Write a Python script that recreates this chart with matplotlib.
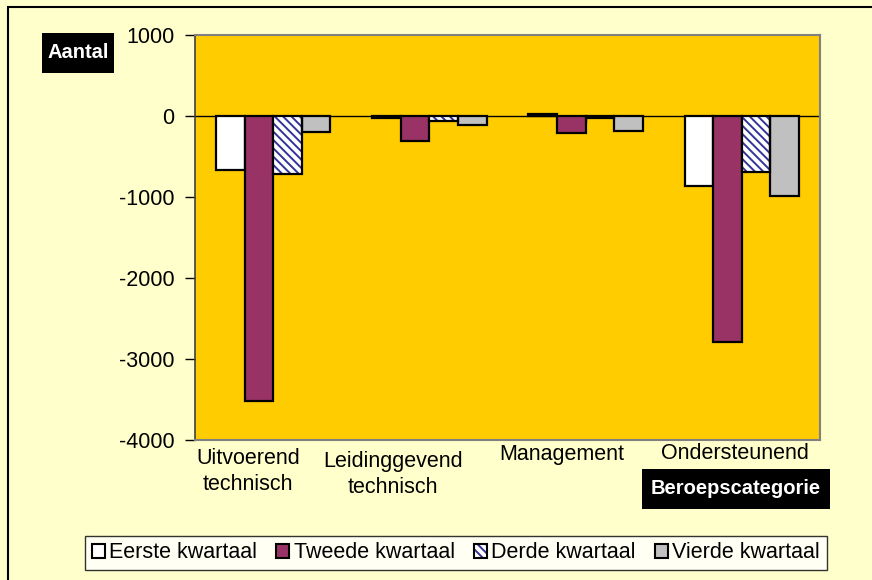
import matplotlib
matplotlib.use('Agg')
import matplotlib.pyplot as plt
from matplotlib.patches import Patch, Rectangle
from matplotlib.legend_handler import HandlerTuple
import numpy as np

plt.rcParams['font.family'] = ['Liberation Sans', 'DejaVu Sans']
plt.rcParams['hatch.linewidth'] = 1.4

categories = ['Uitvoerend\ntechnisch', 'Leidinggevend\ntechnisch', 'Management', 'Ondersteunend']
series = ['Eerste kwartaal', 'Tweede kwartaal', 'Derde kwartaal', 'Vierde kwartaal']
eerste = [-665, -25, 20, -865]
tweede = [-3520, -310, -210, -2790]
derde = [-715, -60, -20, -690]
vierde = [-200, -110, -185, -990]
yticks = [1000, 0, -1000, -2000, -3000, -4000]

fs = 15.5
W, H = 872, 580


def fx(px):
    return px / W


def fy(py):
    return 1 - py / H


fig = plt.figure(figsize=(8.72, 5.80), dpi=100)
fig.patch.set_facecolor('#FFFFCC')
# outer chart border (only top and left visible in the crop)
fig.patches.append(Rectangle((fx(8), -0.05), 1.0, fy(7) + 0.05,
                             transform=fig.transFigure, fill=False,
                             edgecolor='black', linewidth=1.5))

ax = fig.add_axes([fx(195), fy(440), 625 / W, 405 / H])
ax.set_facecolor('#FFCC00')

x = np.arange(len(categories))
w = 0.183
ec = 'black'
lw = 1.6
ax.bar(x - 1.5 * w, eerste, w, color='white', edgecolor=ec, linewidth=lw, zorder=3)
ax.bar(x - 0.5 * w, tweede, w, color='#993366', edgecolor=ec, linewidth=lw, zorder=3)
ax.bar(x + 0.5 * w, derde, w, color='white', edgecolor='#333399', linewidth=0,
       hatch='\\\\\\\\', zorder=3)
ax.bar(x + 0.5 * w, derde, w, fill=False, edgecolor=ec, linewidth=lw, zorder=4)
ax.bar(x + 1.5 * w, vierde, w, color='#C0C0C0', edgecolor=ec, linewidth=lw, zorder=3)

ax.set_xlim(-0.5, len(categories) - 0.5)
ax.set_ylim(-4000, 1000)
ax.set_yticks(yticks)
ax.set_yticklabels([str(v) for v in yticks], fontsize=fs)
ax.tick_params(axis='y', direction='out', length=7, width=1, pad=8)
ax.set_xticks([])

# category axis crossing at zero
ax.axhline(0, color='black', linewidth=1, zorder=2)
ax.vlines(np.arange(1, len(categories)), 0, -75, color='black', linewidth=1, zorder=2)

for side in ['top', 'right', 'bottom']:
    ax.spines[side].set_color('#808080')
    ax.spines[side].set_linewidth(1.5)
ax.spines['left'].set_color('#404040')
ax.spines['left'].set_linewidth(1.2)

# category labels (Excel draws them a bit shifted)
label_pos = [(248, 448), (393, 451), (562, 444), (735, 443)]
for lab, (px, py) in zip(categories, label_pos):
    fig.text(fx(px), fy(py), lab, ha='center', va='top', fontsize=fs,
             linespacing=1.3)

# black title boxes
for (x0, y0, x1, y1), txt in [((42, 33, 114, 73), 'Aantal'),
                             ((642, 469, 830, 509), 'Beroepscategorie')]:
    fig.patches.append(Rectangle((fx(x0), fy(y1)), (x1 - x0) / W, (y1 - y0) / H,
                                 transform=fig.transFigure, facecolor='black',
                                 edgecolor='none'))
    fig.text(fx((x0 + x1) / 2), fy((y0 + y1) / 2), txt, ha='center', va='center',
             fontsize=14.5, fontweight='bold', color='white')

handles = [
    Patch(facecolor='white', edgecolor='black', linewidth=1.5),
    Patch(facecolor='#993366', edgecolor='black', linewidth=1.5),
    (Patch(facecolor='white', edgecolor='#333399', linewidth=0, hatch='\\\\\\\\'),
     Patch(fill=False, edgecolor='black', linewidth=1.5)),
    Patch(facecolor='#C0C0C0', edgecolor='black', linewidth=1.5),
]
leg = fig.legend(handles, series, loc='center', bbox_to_anchor=(fx(456), fy(553)),
                 ncol=4, fontsize=fs, frameon=True, fancybox=False,
                 handlelength=0.6, handleheight=0.6, handletextpad=0.2,
                 columnspacing=0.9, borderpad=0.3, borderaxespad=0,
                 handler_map={tuple: HandlerTuple(ndivide=1)})
leg.get_frame().set_edgecolor('black')
leg.get_frame().set_linewidth(1)
leg.get_frame().set_facecolor('white')

fig.savefig('out.png', dpi=100, facecolor=fig.get_facecolor())
